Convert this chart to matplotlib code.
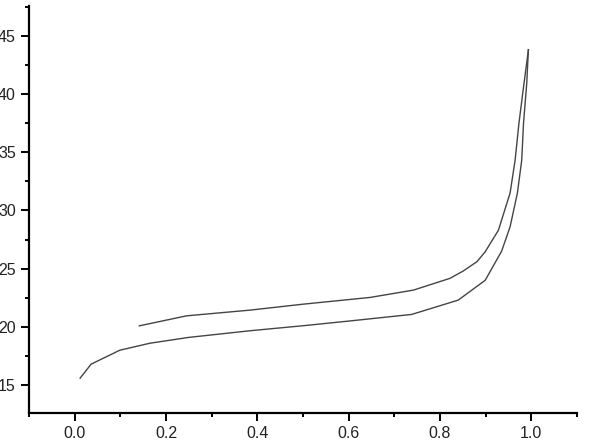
import matplotlib
matplotlib.use("Agg")
import matplotlib.pyplot as plt
from matplotlib.ticker import MultipleLocator

# adsorption branch (lower)
ads_x = [0.012, 0.036, 0.099, 0.165, 0.25, 0.384, 0.5, 0.6, 0.738, 0.84, 0.899,
         0.935, 0.9536, 0.9696, 0.979, 0.983, 0.990, 0.9937]
ads_y = [15.6, 16.8, 18.0, 18.6, 19.1, 19.67, 20.1, 20.5, 21.07, 22.3, 24.0,
         26.5, 28.6, 31.5, 34.3, 37.5, 40.9, 43.8]

# desorption branch (upper)
des_x = [0.9937, 0.984, 0.973, 0.9645, 0.9536, 0.928, 0.899, 0.881, 0.851, 0.822,
         0.742, 0.647, 0.5, 0.384, 0.245, 0.1415]
des_y = [43.8, 40.9, 37.5, 34.3, 31.5, 28.3, 26.45, 25.6, 24.8, 24.17,
         23.16, 22.53, 21.95, 21.44, 20.95, 20.09]

plt.rcParams['font.family'] = ['Liberation Sans', 'DejaVu Sans']

fig = plt.figure(figsize=(6.0, 4.44), dpi=100)
ax = fig.add_axes([0.0483, 0.0709, 0.9133, 0.9156])

ax.plot(ads_x, ads_y, color='#444444', lw=1.0)
ax.plot(des_x, des_y, color='#444444', lw=1.0)

ax.set_xlim(-0.1, 1.1)
ax.set_ylim(12.65, 47.55)
ax.xaxis.set_major_locator(MultipleLocator(0.2))
ax.xaxis.set_minor_locator(MultipleLocator(0.1))
ax.yaxis.set_major_locator(MultipleLocator(5))
ax.yaxis.set_minor_locator(MultipleLocator(2.5))
ax.xaxis.set_major_formatter(plt.FormatStrFormatter('%.1f'))

for s in ['top', 'right']:
    ax.spines[s].set_visible(False)
for s in ['left', 'bottom']:
    ax.spines[s].set_linewidth(1.6)
    ax.spines[s].set_color('#000000')

ax.tick_params(which='major', direction='out', length=5.5, width=1.4,
               labelsize=11.5, pad=4, colors='#000000', labelcolor='#222222')
ax.tick_params(which='minor', direction='out', length=3.2, width=1.4,
               colors='#000000')

fig.savefig('out.png', dpi=100)
